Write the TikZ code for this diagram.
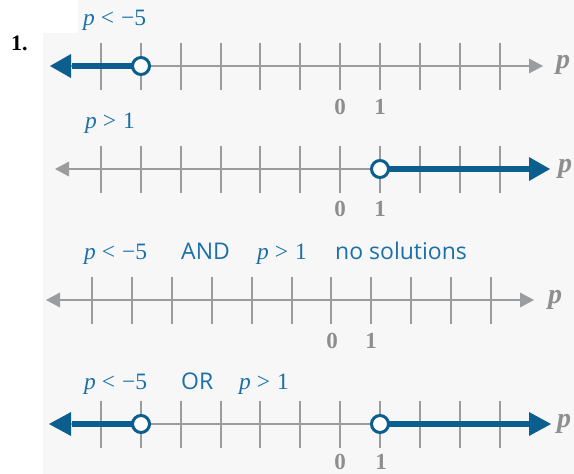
\documentclass[tikz,border=0pt]{standalone}
\usepackage{fontspec}
\setmainfont{Liberation Serif}
\newfontfamily\sansf{Open Sans}
\definecolor{bg}{HTML}{F7F7F7}
\definecolor{lineblue}{HTML}{0B5E8E}
\definecolor{textblue}{HTML}{1B70A8}
\definecolor{axisgray}{HTML}{9B9C9E}
\definecolor{labgray}{HTML}{8E8E8E}
\newcommand\ineq[2]{{\itshape p}\hspace{6pt}#1\hspace{7pt}#2}
\tikzset{
 axisline/.style={draw=axisgray, line width=2pt},
 tickmark/.style={draw=axisgray, line width=2pt},
 ghead/.style={fill=axisgray},
 bline/.style={draw=lineblue, line width=5.5pt},
 bhead/.style={fill=lineblue},
 opendot/.style={circle, draw=lineblue, line width=3pt, fill=white, minimum size=17pt, inner sep=0pt},
 mlabel/.style={text=textblue, font=\fontsize{23.5}{26}\selectfont, inner sep=0pt, anchor=base west},
 slabel/.style={text=textblue, font=\sansf\fontsize{23}{26}\selectfont, inner sep=0pt, anchor=base west},
 numlab/.style={text=labgray, font=\bfseries\fontsize{23}{26}\selectfont, inner sep=0pt, anchor=base},
 plab/.style={text=labgray, font=\bfseries\itshape\fontsize{28}{30}\selectfont, inner sep=0pt, anchor=mid west},
}
\begin{document}
\begin{tikzpicture}[x=1pt,y=-1pt]
\useasboundingbox (0,0) rectangle (574,474);
\fill[bg] (43,33) rectangle (574,474);
\fill[bg] (78,0) rectangle (574,33);
\node[font=\bfseries\fontsize{22}{24}\selectfont, inner sep=0pt, anchor=base west] (num) at (11,50) {1.};

% ---------- line 1
\node[mlabel] (t1) at (83,25) {\ineq{<}{−5}};
\coordinate (a1l) at (70,66);
\coordinate (a1r) at (531,66);
\draw[axisline] (a1l) -- (a1r);
\fill[ghead] (543,66) -- (529,58.5) -- (529,73.5) -- cycle;
\foreach \i in {0,...,10} \draw[tickmark] ({101+39.85*\i},42.5) -- ++(0,47);
\coordinate (o1) at (141,66);
\coordinate (h1) at (72,66);
\draw[bline] (o1) -- (h1);
\fill[bhead] (50,66) -- (71,54) -- (71,78) -- cycle;
\node[opendot] (c1) at (o1) {};
\node[numlab] (z1) at (340,114) {0};
\node[numlab] (u1) at (380,114) {1};
\node[plab] (p1) at (556,66) {p};

% ---------- line 2
\node[mlabel] (t2) at (85,128) {\ineq{>}{1}};
\coordinate (a2l) at (67,169);
\coordinate (a2r) at (530,169);
\draw[axisline] (a2l) -- (a2r);
\fill[ghead] (55,169) -- (69,161.5) -- (69,176.5) -- cycle;
\foreach \i in {0,...,10} \draw[tickmark] ({101+39.85*\i},145.5) -- ++(0,47);
\coordinate (o2) at (380,169);
\coordinate (h2) at (530,169);
\draw[bline] (o2) -- (h2);
\fill[bhead] (550,169) -- (529,157) -- (529,181) -- cycle;
\node[opendot] (c2) at (o2) {};
\node[numlab] (z2) at (340,216) {0};
\node[numlab] (u2) at (380,216) {1};
\node[plab] (p2) at (558,170) {p};

% ---------- line 3
\node[mlabel] (t3a) at (84,259) {\ineq{<}{−5}};
\node[slabel] (t3b) at (181,259) {AND};
\node[mlabel] (t3c) at (257,259) {\ineq{>}{1}};
\node[slabel] (t3d) at (335,259) {no solutions};
\coordinate (a3l) at (58,300);
\coordinate (a3r) at (522,300);
\draw[axisline] (a3l) -- (a3r);
\fill[ghead] (46,300) -- (60,292.5) -- (60,307.5) -- cycle;
\fill[ghead] (534,300) -- (520,292.5) -- (520,307.5) -- cycle;
\foreach \i in {0,...,10} \draw[tickmark] ({92+39.9*\i},276.5) -- ++(0,47);
\node[numlab] (z3) at (332,348) {0};
\node[numlab] (u3) at (371,348) {1};
\node[plab] (p3) at (548,301) {p};

% ---------- line 4
\node[mlabel] (t4a) at (84,389) {\ineq{<}{−5}};
\node[slabel] (t4b) at (181,389) {OR};
\node[mlabel] (t4c) at (239,389) {\ineq{>}{1}};
\coordinate (a4l) at (70,424);
\coordinate (a4r) at (531,424);
\draw[axisline] (a4l) -- (a4r);
\foreach \i in {0,...,10} \draw[tickmark] ({101+39.85*\i},400.5) -- ++(0,47);
\coordinate (o4a) at (141,424);
\coordinate (h4a) at (72,424);
\draw[bline] (o4a) -- (h4a);
\fill[bhead] (49,424) -- (71,412) -- (71,436) -- cycle;
\coordinate (o4b) at (380,424);
\coordinate (h4b) at (530,424);
\draw[bline] (o4b) -- (h4b);
\fill[bhead] (551,424) -- (529,412) -- (529,436) -- cycle;
\node[opendot] (c4a) at (o4a) {};
\node[opendot] (c4b) at (o4b) {};
\node[numlab] (z4) at (340,469.5) {0};
\node[numlab] (u4) at (381,469.5) {1};
\node[plab] (p4) at (557,425) {p};
\end{tikzpicture}
\end{document}
